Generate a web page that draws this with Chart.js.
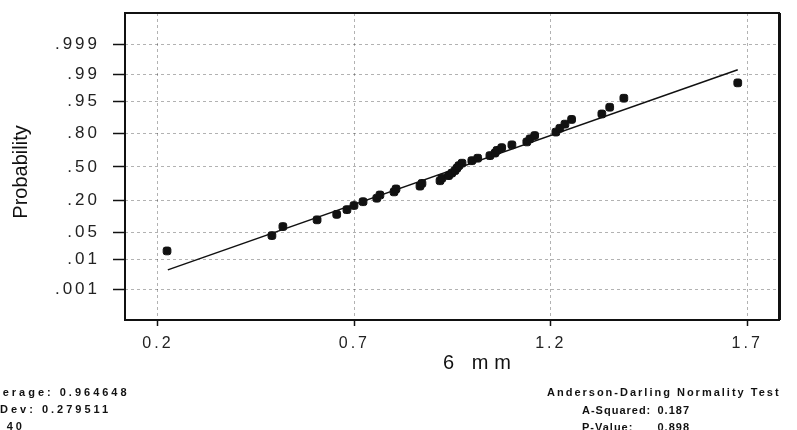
<!DOCTYPE html>
<html>
<head>
<meta charset="utf-8">
<script src="https://cdn.jsdelivr.net/npm/chart.js@4"></script>
<style>
html,body{margin:0;padding:0;background:#fff}
#chart{display:block}
</style>
</head>
<body>
<canvas id="chart" width="797" height="430"></canvas>
<script>
// measured values, 6 mm (sorted), with their plotted probabilities
const sizeValues=[0.223,0.490,0.518,0.605,0.655,0.681,0.699,0.722,0.757,0.765,
0.801,0.806,0.867,0.872,0.918,0.923,0.940,0.948,0.956,0.961,
0.966,0.974,0.999,1.014,1.045,1.058,1.063,1.075,1.101,1.139,
1.147,1.159,1.213,1.223,1.236,1.253,1.330,1.350,1.386,1.676]
const probValues=[.0173,.0421,.0668,.0916,.1163,.1411,.1658,.1906,.2153,.2401,
.2649,.2896,.3144,.3391,.3639,.3886,.4134,.4381,.4629,.4876,
.5124,.5371,.5619,.5866,.6114,.6361,.6609,.6856,.7104,.7351,
.7599,.7847,.8094,.8342,.8589,.8837,.9084,.9332,.9579,.9827]

// fitted line ends
const fitX=[0.225,1.676]
const fitP=[0.0048,0.9927]

const xTicks=[0.2,0.7,1.2,1.7]
const yTickProbs=[0.001,0.01,0.05,0.20,0.50,0.80,0.95,0.99,0.999]
const yTickLabels=[".001",".01",".05",".20",".50",".80",".95",".99",".999"]

const statsLeft=["Average: 0.964648","StDev: 0.279511","N: 40"]
const statsTitle="Anderson-Darling Normality Test"
const statsRight=[["A-Squared:","0.187"],["P-Value:","0.898"]]

// inverse normal cdf (Acklam) - used for the probability scale
function probit(p){
const a=[-39.69683028665376,220.9460984245205,-275.9285104469687,138.3577518672690,-30.66479806614716,2.506628277459239]
const b=[-54.47609879822406,161.5858368580409,-155.6989798598866,66.80131188771972,-13.28068155288572]
const c=[-0.007784894002430293,-0.3223964580411365,-2.400758277161838,-2.549732539343734,4.374664141464968,2.938163982698783]
const d=[0.007784695709041462,0.3224671290700398,2.445134137142996,3.754408661907416]
const pl=0.02425
let q,r
if(p<pl){
q=Math.sqrt(-2*Math.log(p))
return (((((c[0]*q+c[1])*q+c[2])*q+c[3])*q+c[4])*q+c[5])/((((d[0]*q+d[1])*q+d[2])*q+d[3])*q+1)
}
if(p>1-pl){
q=Math.sqrt(-2*Math.log(1-p))
return -(((((c[0]*q+c[1])*q+c[2])*q+c[3])*q+c[4])*q+c[5])/((((d[0]*q+d[1])*q+d[2])*q+d[3])*q+1)
}
q=p-0.5
r=q*q
return (((((a[0]*r+a[1])*r+a[2])*r+a[3])*r+a[4])*r+a[5])*q/(((((b[0]*r+b[1])*r+b[2])*r+b[3])*r+b[4])*r+1)
}

const FONT="'Liberation Sans', Arial, sans-serif"

const pointData=sizeValues.map((v,i)=>({x:v,y:probit(probValues[i])}))
const fitData=fitX.map((v,i)=>({x:v,y:probit(fitP[i])}))

const extras={
id:"extras",
beforeDraw(chart){
chart.ctx.letterSpacing="3px"
},
afterDraw(chart){
const ctx=chart.ctx
const a=chart.chartArea
ctx.save()
// frame
ctx.strokeStyle="#111"
ctx.lineWidth=2
ctx.strokeRect(a.left,a.top,a.right-a.left,a.bottom-a.top)
ctx.lineWidth=3
ctx.beginPath()
ctx.moveTo(a.right+0.5,a.top)
ctx.lineTo(a.right+0.5,a.bottom)
ctx.stroke()

ctx.fillStyle="#111"
// axis titles
ctx.letterSpacing="6px"
ctx.font="20px "+FONT
ctx.textAlign="left"
ctx.textBaseline="alphabetic"
ctx.fillText("6 mm",443,369)

ctx.save()
ctx.translate(27,172)
ctx.rotate(-Math.PI/2)
ctx.letterSpacing="0px"
ctx.font="20px "+FONT
ctx.textAlign="center"
ctx.fillText("Probability",0,0)
ctx.restore()

// stats text
ctx.font="bold 11px "+FONT
ctx.letterSpacing="3px"
ctx.textAlign="left"
statsLeft.forEach((t,i)=>ctx.fillText(t,-17,396+i*17))

ctx.letterSpacing="2px"
ctx.fillText(statsTitle,547,396)
ctx.letterSpacing="1px"
statsRight.forEach((row,i)=>{
ctx.textAlign="left"
ctx.fillText(row[0],582,414+i*17)
ctx.textAlign="right"
ctx.fillText(row[1],690,414+i*17)
})
ctx.restore()
}
}

new Chart(document.getElementById("chart"),{
type:"scatter",
data:{
datasets:[{
label:"data",
data:pointData,
backgroundColor:"#111",
borderColor:"#111",
pointStyle:"rectRounded",
pointRadius:4.5,
pointHoverRadius:4.5
},{
type:"line",
label:"fit",
data:fitData,
borderColor:"#111",
borderWidth:1.5,
pointRadius:0,
fill:false
}]
},
options:{
responsive:false,
animation:false,
devicePixelRatio:1,
layout:{padding:{left:0,top:13,right:18,bottom:0}},
plugins:{legend:{display:false},tooltip:{enabled:false}},
scales:{
x:{
type:"linear",
min:0.116,
max:1.781,
afterBuildTicks:s=>{s.ticks=xTicks.map(v=>({value:v}))},
afterFit:s=>{s.height=110;s.paddingLeft=0;s.paddingRight=0},
ticks:{
callback:v=>v.toFixed(1),
color:"#222",
font:{family:FONT,size:16},
padding:8,
maxRotation:0,
autoSkip:false
},
grid:{
color:"rgba(0,0,0,0.3)",
lineWidth:1,
tickLength:6,
tickColor:"#111",
tickWidth:1.5
},
border:{display:false,dash:[3,3]}
},
y:{
type:"linear",
min:-3.85,
max:3.87,
afterBuildTicks:s=>{s.ticks=yTickProbs.map(p=>({value:probit(p)}))},
afterFit:s=>{s.width=125;s.paddingTop=0;s.paddingBottom=0},
ticks:{
callback:(v,i)=>yTickLabels[i],
color:"#222",
font:{family:FONT,size:17},
padding:13,
autoSkip:false
},
grid:{
color:"rgba(0,0,0,0.3)",
lineWidth:1,
tickLength:12,
tickColor:"#111",
tickWidth:1.5
},
border:{display:false,dash:[3,3]}
}
}
},
plugins:[extras]
})
</script>
</body>
</html>
